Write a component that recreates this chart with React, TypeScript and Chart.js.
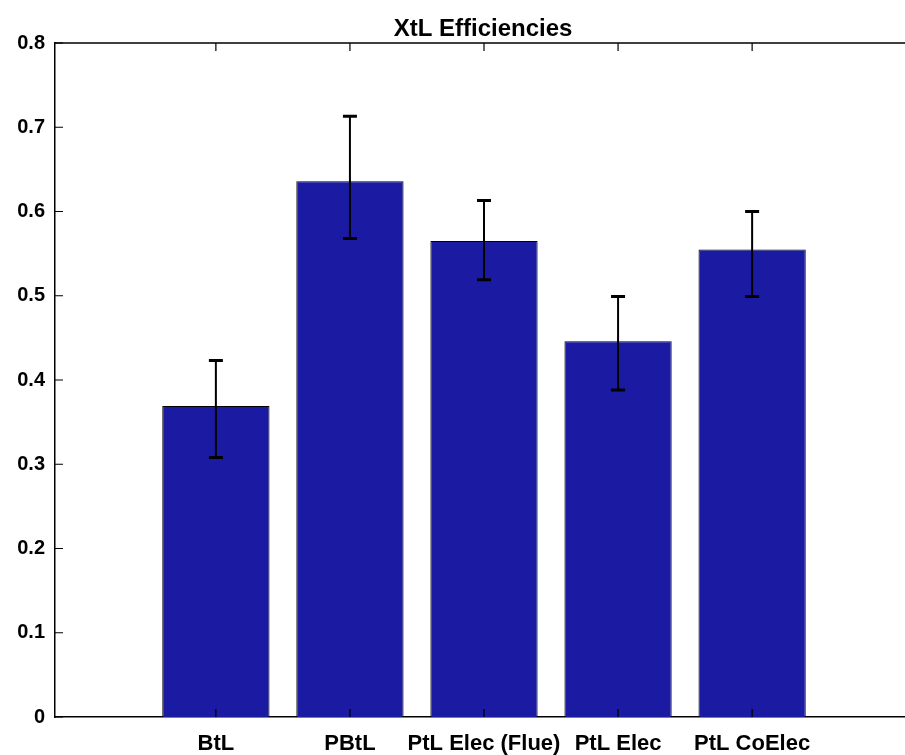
import { useEffect, useRef } from 'react';
import { Chart, registerables } from 'chart.js';

Chart.register(...registerables);

const chartTitle = 'XtL Efficiencies';
const categories = ['BtL', 'PBtL', 'PtL Elec (Flue)', 'PtL Elec', 'PtL CoElec'];
const positions = [1, 2, 3, 4, 5];
const efficiencies = [0.369, 0.636, 0.565, 0.446, 0.555];
const errorHigh = [0.423, 0.713, 0.613, 0.499, 0.6];
const errorLow = [0.308, 0.568, 0.519, 0.388, 0.499];
const yTicks = [0, 0.1, 0.2, 0.3, 0.4, 0.5, 0.6, 0.7, 0.8];

const FONT = "'Liberation Sans', Arial, Helvetica, sans-serif";

const CANVAS_W = 930;
const CANVAS_H = 755;

const decorPlugin = {
  id: 'decor',
  afterDatasetsDraw(chart: any) {
    const ctx = chart.ctx;
    const x = chart.scales.x;
    const y = chart.scales.y;
    ctx.save();
    ctx.strokeStyle = '#000';
    positions.forEach((p, i) => {
      const px = x.getPixelForValue(p);
      const top = y.getPixelForValue(errorHigh[i]);
      const bot = y.getPixelForValue(errorLow[i]);
      ctx.lineWidth = 2;
      ctx.beginPath();
      ctx.moveTo(px, top);
      ctx.lineTo(px, bot);
      ctx.stroke();
      ctx.lineWidth = 3;
      ctx.beginPath();
      ctx.moveTo(px - 7, top);
      ctx.lineTo(px + 7, top);
      ctx.moveTo(px - 7, bot);
      ctx.lineTo(px + 7, bot);
      ctx.stroke();
    });
    ctx.restore();
  },
  afterDraw(chart: any) {
    const ctx = chart.ctx;
    const a = chart.chartArea;
    const x = chart.scales.x;
    const y = chart.scales.y;
    ctx.save();
    ctx.strokeStyle = '#000';
    ctx.lineWidth = 1.5;
    ctx.beginPath();
    ctx.moveTo(a.left, a.top);
    ctx.lineTo(a.right, a.top);
    ctx.lineTo(a.right, a.bottom);
    ctx.stroke();
    ctx.lineWidth = 1.2;
    ctx.beginPath();
    yTicks.forEach((v) => {
      const py = y.getPixelForValue(v);
      ctx.moveTo(a.left, py);
      ctx.lineTo(a.left + 8, py);
      ctx.moveTo(a.right, py);
      ctx.lineTo(a.right - 8, py);
    });
    positions.forEach((p) => {
      const px = x.getPixelForValue(p);
      ctx.moveTo(px, a.bottom);
      ctx.lineTo(px, a.bottom - 8);
      ctx.moveTo(px, a.top);
      ctx.lineTo(px, a.top + 8);
    });
    ctx.stroke();
    ctx.fillStyle = '#000';
    ctx.font = `bold 24px ${FONT}`;
    ctx.textAlign = 'center';
    ctx.textBaseline = 'alphabetic';
    ctx.fillText(chartTitle, 483, 36);
    ctx.restore();
  },
};

export default function App() {
  const ref = useRef<HTMLCanvasElement | null>(null);

  useEffect(() => {
    if (!ref.current) return;
    const chart = new Chart(ref.current, {
      type: 'bar',
      data: {
        datasets: [
          {
            data: positions.map((p, i) => ({ x: p, y: efficiencies[i] })),
            backgroundColor: '#1a1aa2',
            borderColor: '#000',
            borderWidth: 1,
            barPercentage: 0.8,
            categoryPercentage: 1,
          } as any,
        ],
      },
      options: {
        animation: false,
        responsive: false,
        devicePixelRatio: 1,
        layout: { padding: { top: 43, right: CANVAS_W - 913, left: 0, bottom: 0 } },
        plugins: {
          legend: { display: false },
          title: { display: false },
          tooltip: { enabled: false },
        },
        scales: {
          x: {
            type: 'linear',
            offset: false,
            min: -0.2,
            max: 6.2,
            afterBuildTicks: (s: any) => {
              s.ticks = positions.map((v) => ({ value: v }));
            },
            afterFit: (s: any) => {
              s.height = CANVAS_H - 717;
            },
            ticks: {
              autoSkip: false,
              maxRotation: 0,
              padding: 14,
              color: '#000',
              font: { family: FONT, size: 22, weight: 'bold' },
              callback: (v: any) => {
                const idx = positions.indexOf(Number(v));
                return idx >= 0 ? categories[idx] : '';
              },
            },
            grid: { display: false, drawTicks: false, offset: false },
            border: { display: true, color: '#000', width: 1.5 },
          },
          y: {
            min: 0,
            max: 0.8,
            afterBuildTicks: (s: any) => {
              s.ticks = yTicks.map((v) => ({ value: v }));
            },
            afterFit: (s: any) => {
              s.width = 55;
            },
            ticks: {
              padding: 10,
              color: '#000',
              font: { family: FONT, size: 20, weight: 'bold' },
              callback: (v: any) => (Number(v) === 0 ? '0' : Number(v).toFixed(1)),
            },
            grid: { display: false, drawTicks: false },
            border: { display: true, color: '#000', width: 1.5 },
          },
        },
      } as any,
      plugins: [decorPlugin],
    });
    return () => chart.destroy();
  }, []);

  return (
    <div
      style={{
        position: 'fixed',
        left: 0,
        top: 0,
        width: 905,
        height: 755,
        overflow: 'hidden',
        background: '#fff',
      }}
    >
      <canvas ref={ref} width={CANVAS_W} height={CANVAS_H} style={{ display: 'block' }} />
    </div>
  );
}
